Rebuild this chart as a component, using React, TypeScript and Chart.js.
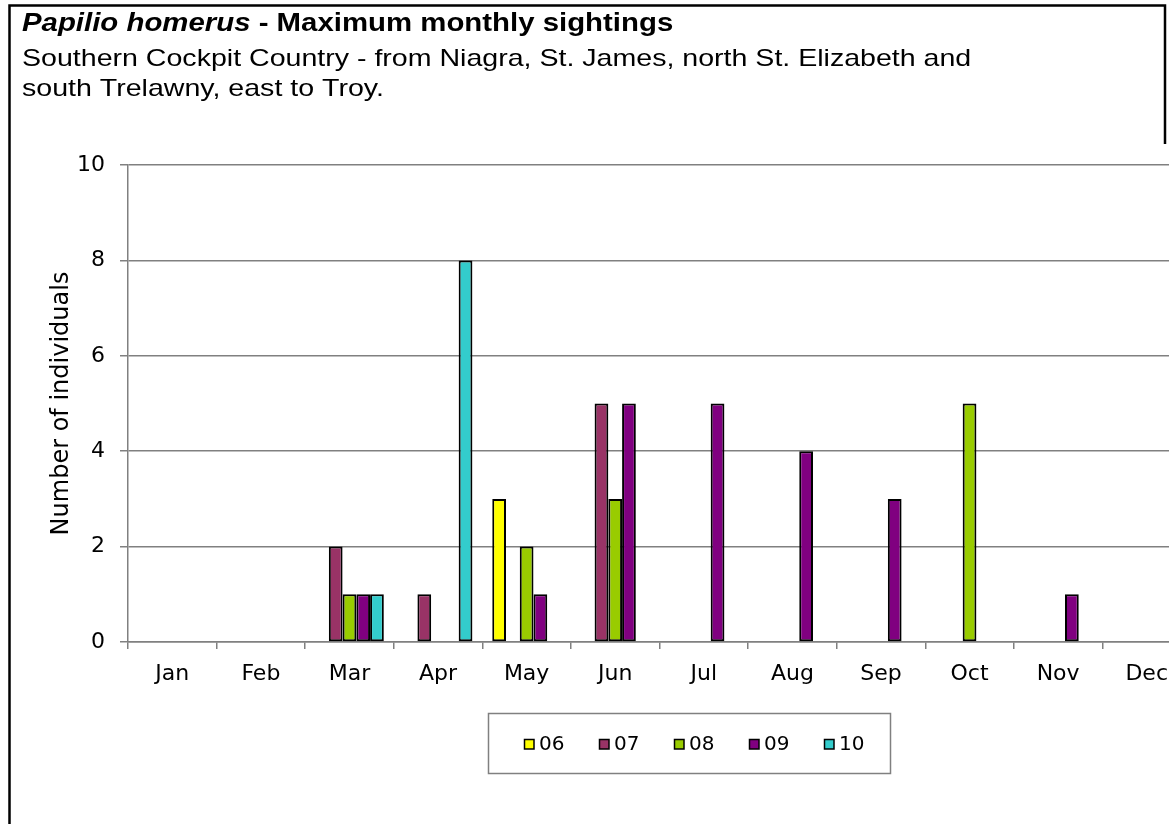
import React, { useEffect, useRef } from 'react';
import { Chart, registerables } from 'chart.js';

Chart.register(...registerables);

const months = ['Jan', 'Feb', 'Mar', 'Apr', 'May', 'Jun', 'Jul', 'Aug', 'Sep', 'Oct', 'Nov', 'Dec'];
const seriesLabels = ['06', '07', '08', '09', '10'];
const y06 = [null, null, null, null, 3, null, null, null, null, null, null, null];
const y07 = [null, null, 2, 1, null, 5, null, null, null, null, null, null];
const y08 = [null, null, 1, null, 2, 3, null, null, null, 5, null, null];
const y09 = [null, null, 1, null, 1, 5, 5, 4, 3, null, 1, null];
const y10 = [null, null, 1, 8, null, null, null, null, null, null, null, null];
const seriesValues = [y06, y07, y08, y09, y10];
const seriesColors = ['#FFFF00', '#993366', '#99CC00', '#800080', '#33CCCC'];
const yTicks = [0, 2, 4, 6, 8, 10];

const titleItalic = 'Papilio homerus';
const titleRest = ' - Maximum monthly sightings';
const subtitleLines = [
  'Southern Cockpit Country - from Niagra, St. James, north St. Elizabeth and',
  'south Trelawny, east to Troy.',
];
const yAxisTitle = 'Number of individuals';

const GRID = '#808080';

const headerPlugin = {
  id: 'header',
  afterDraw(chart: any) {
    const ctx = chart.ctx;
    ctx.save();
    // frame
    ctx.strokeStyle = '#000';
    ctx.lineWidth = 2.5;
    ctx.beginPath();
    ctx.moveTo(9.5, 830);
    ctx.lineTo(9.5, 5.5);
    ctx.lineTo(1165, 5.5);
    ctx.lineTo(1165, 144);
    ctx.stroke();
    // title
    ctx.fillStyle = '#000';
    ctx.textBaseline = 'alphabetic';
    ctx.textAlign = 'left';
    ctx.save();
    ctx.translate(22, 31);
    ctx.scale(1.175, 1);
    ctx.font = 'italic bold 25px "Liberation Sans"';
    ctx.fillText(titleItalic, 0, 0);
    const w = ctx.measureText(titleItalic).width;
    ctx.font = 'bold 25px "Liberation Sans"';
    ctx.fillText(titleRest, w, 0);
    ctx.restore();
    subtitleLines.forEach((line, i) => {
      ctx.save();
      ctx.translate(22, 66 + i * 30);
      ctx.scale(1.19, 1);
      ctx.font = '24px "Liberation Sans"';
      ctx.fillText(line, 0, 0);
      ctx.restore();
    });
    ctx.restore();
  },
};

const legendPlugin = {
  id: 'boxLegend',
  afterDraw(chart: any) {
    const ctx = chart.ctx;
    ctx.save();
    ctx.strokeStyle = GRID;
    ctx.lineWidth = 1.5;
    ctx.strokeRect(488.5, 713.5, 402, 60);
    ctx.font = '20px "DejaVu Sans"';
    ctx.textBaseline = 'middle';
    ctx.textAlign = 'left';
    chart.data.datasets.forEach((ds: any, i: number) => {
      const x = 524 + 75 * i;
      ctx.fillStyle = ds.backgroundColor;
      ctx.fillRect(x, 739, 10, 10);
      ctx.strokeStyle = '#000';
      ctx.lineWidth = 1.5;
      ctx.strokeRect(x + 0.5, 739.5, 9.5, 9.5);
      ctx.fillStyle = '#000';
      ctx.fillText(ds.label, x + 15, 745);
    });
    ctx.restore();
  },
};

export default function App() {
  const ref = useRef<HTMLCanvasElement>(null);

  useEffect(() => {
    const canvas = ref.current;
    if (!canvas) return;
    Chart.defaults.font.family = '"DejaVu Sans"';
    const chart = new Chart(canvas, {
      type: 'bar',
      data: {
        labels: months,
        datasets: seriesLabels.map((label, i) => ({
          label,
          data: seriesValues[i],
          backgroundColor: seriesColors[i],
          borderColor: '#000',
          borderWidth: 2,
          borderSkipped: false,
          categoryPercentage: 0.776,
          barPercentage: 1,
        })),
      },
      options: {
        animation: false,
        responsive: false,
        devicePixelRatio: 1,
        layout: { padding: { top: 165, left: 0, right: 9, bottom: 0 } },
        plugins: {
          legend: { display: false },
          title: { display: false },
          tooltip: { enabled: false },
        },
        scales: {
          x: {
            type: 'category',
            offset: true,
            grid: {
              offset: true,
              drawOnChartArea: false,
              drawTicks: true,
              tickLength: 7,
              color: GRID,
              lineWidth: 1.5,
            },
            border: { display: true, color: GRID, width: 1.5 },
            ticks: {
              color: '#000',
              font: { family: '"DejaVu Sans"', size: 22 },
              padding: 12,
              maxRotation: 0,
              autoSkip: false,
            },
            afterFit: (s: any) => {
              s.height = 182;
            },
          },
          y: {
            min: 0,
            max: 10,
            grid: {
              color: GRID,
              lineWidth: 1.5,
              tickLength: 8,
              drawOnChartArea: true,
            },
            border: { display: true, color: GRID, width: 1.5 },
            ticks: {
              color: '#000',
              font: { family: '"DejaVu Sans"', size: 22 },
              padding: 15,
            },
            afterBuildTicks: (s: any) => {
              s.ticks = yTicks.map((v) => ({ value: v }));
            },
            title: {
              display: true,
              text: yAxisTitle,
              color: '#000',
              font: { family: '"DejaVu Sans"', size: 24 },
              padding: { top: 47, bottom: 0 },
            },
            afterFit: (s: any) => {
              s.width = 128;
            },
          },
        },
      },
      plugins: [headerPlugin, legendPlugin],
    } as any);
    return () => chart.destroy();
  }, []);

  return (
    <div
      style={{
        position: 'fixed',
        left: 0,
        top: 0,
        width: 1169,
        height: 824,
        overflow: 'hidden',
        background: '#fff',
      }}
    >
      <canvas ref={ref} width={1200} height={824} style={{ display: 'block', width: 1200, height: 824 }} />
    </div>
  );
}
